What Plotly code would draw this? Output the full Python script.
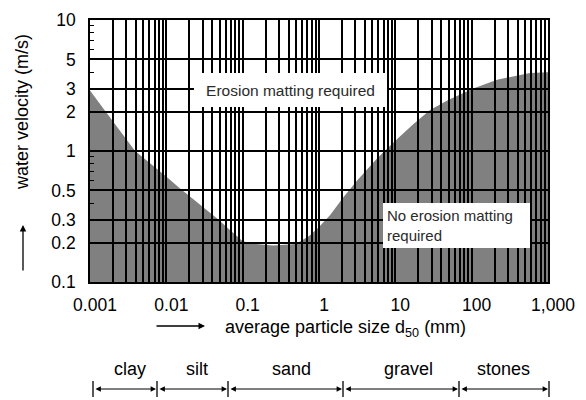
import plotly.graph_objects as go

# ---- data ----
particle_size_mm = [0.001, 0.0016, 0.0039, 0.0096, 0.015, 0.045, 0.1, 0.15, 0.25, 0.5,
                    0.75, 1.0, 1.4, 2.1, 3.2, 5.8, 10, 17, 28.5, 50, 105, 215, 580, 1000]
critical_velocity_ms = [2.9, 2.0, 1.0, 0.65, 0.52, 0.31, 0.205, 0.195, 0.19, 0.195,
                        0.225, 0.263, 0.325, 0.445, 0.6, 0.88, 1.2, 1.59, 2.06, 2.46, 3.0, 3.5, 3.94, 4.0]

x_tick_vals = [0.001, 0.01, 0.1, 1, 10, 100, 1000]
x_tick_text = ["0.001", "0.01", "0.1", "1", "10", "100", "1,000"]
x_minor_grid = [m * 10.0 ** k for k in range(-3, 3) for m in range(2, 10)]
y_tick_vals = [0.1, 0.2, 0.3, 0.5, 1, 2, 3, 5, 10]
y_tick_text = ["0.1", "0.2", "0.3", "0.5", "1", "2", "3", "5", "10"]
y_minor_ticks = [0.4, 0.6, 0.7, 0.8, 0.9, 4, 6, 7, 8, 9]

soil_classes = ["clay", "silt", "sand", "gravel", "stones"]
soil_label_px = [130, 197, 291, 408, 503]          # label centres (schematic bar)
soil_bounds_px = [93, 157, 228, 343, 459, 549]     # class boundaries (schematic bar)

# ---- layout geometry (screen pixels; the page body adds an 8px offset) ----
W, H = 586, 400
PAGE_OFFSET = 8
L, R, T, B = 90, 548, 20, 282
FONT = "Arial, 'Liberation Sans', sans-serif"
TXT = "#000000"


def px_x(p):
    return (p - L) / (R - L)


def px_y(p):
    return (B - p) / (B - T)


y_min, y_max = y_tick_vals[0], y_tick_vals[-1]

fig = go.Figure()
fig.add_trace(go.Scatter(
    x=particle_size_mm, y=critical_velocity_ms, mode="lines",
    line=dict(color="rgba(128,128,128,0)", width=1),
    showlegend=False, hoverinfo="x+y",
))

# grey region below the curve, drawn beneath the grid lines
path = f"M {particle_size_mm[0]},{y_min} " + " ".join(
    f"L {xv},{yv}" for xv, yv in zip(particle_size_mm, critical_velocity_ms)
) + f" L {particle_size_mm[-1]},{y_min} Z"
fig.add_shape(type="path", path=path, xref="x", yref="y", layer="below",
              fillcolor="#808080", line=dict(width=0))

annotations = []
# box labels
annotations.append(dict(
    x=px_x(290), y=px_y(90), xref="paper", yref="paper", showarrow=False,
    text="Erosion matting required", font=dict(family=FONT, size=15.5, color="#2a2a2a"),
    bgcolor="white", width=185, height=26, borderpad=4, borderwidth=0,
    xanchor="center", yanchor="middle",
))
annotations.append(dict(
    x=px_x(383), y=px_y(225.5), xref="paper", yref="paper", showarrow=False,
    text="No erosion matting<br>required", align="left",
    font=dict(family=FONT, size=15, color="#2a2a2a"),
    bgcolor="white", width=139, borderpad=4, borderwidth=0,
    xanchor="left", yanchor="middle",
))
# axis titles
annotations.append(dict(
    x=px_x(22), y=px_y(112), xref="paper", yref="paper", showarrow=False,
    text="water velocity (m/s)", textangle=-90,
    font=dict(family=FONT, size=18, color=TXT), xanchor="center", yanchor="middle",
))
annotations.append(dict(
    x=px_x(23), y=px_y(225), xref="paper", yref="paper", showarrow=True,
    ax=0, ay=47, axref="pixel", ayref="pixel", text="",
    arrowhead=2, arrowsize=1, arrowwidth=1.3, arrowcolor="black",
))
annotations.append(dict(
    x=px_x(345), y=px_y(328), xref="paper", yref="paper", showarrow=False,
    text="average particle size d<sub>50</sub> (mm)",
    font=dict(family=FONT, size=18, color=TXT), xanchor="center", yanchor="middle",
))
annotations.append(dict(
    x=px_x(205), y=px_y(326), xref="paper", yref="paper", showarrow=True,
    ax=-50, ay=0, axref="pixel", ayref="pixel", text="",
    arrowhead=2, arrowsize=1, arrowwidth=1.3, arrowcolor="black",
))
# soil class bar
for name, cx in zip(soil_classes, soil_label_px):
    annotations.append(dict(
        x=px_x(cx), y=px_y(369), xref="paper", yref="paper", showarrow=False,
        text=name, font=dict(family=FONT, size=18, color=TXT),
        xanchor="center", yanchor="middle",
    ))
for a, b in zip(soil_bounds_px[:-1], soil_bounds_px[1:]):
    annotations.append(dict(
        x=px_x(b - 1), y=px_y(389), xref="paper", yref="paper", showarrow=True,
        ax=(a + 1) - (b - 1), ay=0, axref="pixel", ayref="pixel", text="",
        arrowside="end+start", arrowhead=2, startarrowhead=2,
        arrowsize=0.9, startarrowsize=0.9, arrowwidth=1.2, arrowcolor="black",
    ))
for bpx in soil_bounds_px:
    fig.add_shape(type="line", xref="paper", yref="paper",
                  x0=px_x(bpx), x1=px_x(bpx), y0=px_y(381), y1=px_y(397),
                  line=dict(color="black", width=1.3))

fig.update_layout(
    width=W, height=H,
    margin=dict(l=L - PAGE_OFFSET, r=W - (R - PAGE_OFFSET), t=T - PAGE_OFFSET,
                b=H - (B - PAGE_OFFSET), pad=0, autoexpand=False),
    paper_bgcolor="white", plot_bgcolor="white",
    showlegend=False,
    annotations=annotations,
    font=dict(family=FONT, size=17.5, color=TXT),
)
fig.update_xaxes(
    type="log", range=[-3, 3], tickvals=x_tick_vals, ticktext=x_tick_text,
    showgrid=True, gridcolor="black", gridwidth=1.5,
    minor=dict(tickvals=x_minor_grid, showgrid=True, gridcolor="black", gridwidth=1.5, ticks=""),
    showline=True, mirror=True, linecolor="black", linewidth=1.6,
    ticks="", ticklabelstandoff=6, ticklabelshift=5, zeroline=False, automargin=False,
    tickfont=dict(family=FONT, size=17.5, color=TXT),
)
fig.update_yaxes(
    type="log", range=[-1, 1], tickvals=y_tick_vals, ticktext=y_tick_text,
    showgrid=True, gridcolor="black", gridwidth=1.5,
    minor=dict(tickvals=y_minor_ticks, showgrid=False, ticks="inside", ticklen=4,
               tickcolor="black", tickwidth=1),
    showline=True, mirror=True, linecolor="black", linewidth=1.6,
    ticks="", ticklabelstandoff=9, zeroline=False, automargin=False,
    tickfont=dict(family=FONT, size=17.5, color=TXT),
)

fig.write_html("out.html")
